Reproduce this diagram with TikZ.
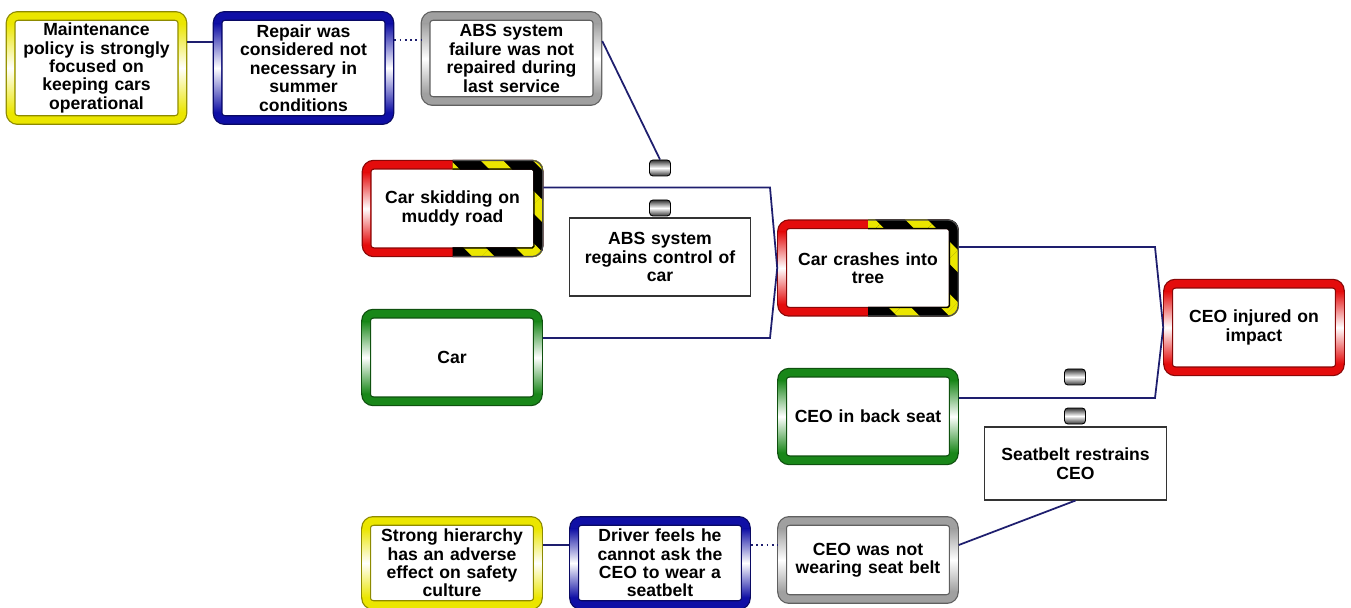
\documentclass[tikz,border=0pt]{standalone}
\usepackage{fontspec}
\setmainfont{Liberation Sans}
\usetikzlibrary{calc,patterns.meta}

\definecolor{linea}{RGB}{30,30,110}
\definecolor{giallo}{RGB}{235,230,0}
\definecolor{blu}{RGB}{15,15,165}
\definecolor{grigio}{RGB}{160,160,160}
\definecolor{rosso}{RGB}{228,12,12}
\definecolor{verde}{RGB}{25,135,25}

\tikzset{
  evento/.style={rectangle, rounded corners=4pt, draw=#1!60!black, double=#1, double distance=4.2pt,
    line width=0.7pt, minimum width=3.36cm, minimum height=1.75cm, text width=3.2cm, align=center,
    outer sep=2.8pt, fill=white, font=\bfseries\fontsize{10}{10.5}\selectfont},
  barriera/.style={rectangle, draw=black!80, line width=0.6pt, minimum width=3.58cm, minimum height=1.46cm,
    text width=3.4cm, align=center, fill=white, font=\bfseries\fontsize{10}{10.5}\selectfont},
  blocco/.style={rectangle, rounded corners=2pt, draw=black, line width=0.5pt, minimum width=0.42cm,
    minimum height=0.32cm, inner sep=0pt, top color=black!80, bottom color=black!80, middle color=white},
  conn/.style={draw=linea, line width=1pt},
}

% riflesso bianco sui lati
\newcommand{\lucido}[2]{%
  \shade[top color=#2, bottom color=#2, middle color=white]
    ($(#1.north west)+(0.03,-0.25)$) rectangle ($(#1.south west)+(0.168,0.25)$);
  \shade[top color=#2, bottom color=#2, middle color=white]
    ($(#1.north east)+(-0.03,-0.25)$) rectangle ($(#1.south east)+(-0.168,0.25)$);}

% bordo a strisce giallo-nero sulla meta destra
\newcommand{\striscia}[1]{%
  \begin{scope}
    \clip ($(#1.north)+(0,0.3)$) rectangle ($(#1.south east)+(0.3,-0.3)$);
    \fill[black, even odd rule, rounded corners=6pt] (#1.north west) rectangle (#1.south east)
      [rounded corners=1pt] ($(#1.north west)+(0.197,-0.197)$) rectangle ($(#1.south east)+(-0.197,0.197)$);
    \fill[pattern={Lines[angle=-45,distance=21pt,line width=9pt]}, pattern color=giallo, even odd rule, rounded corners=6pt]
      (#1.north west) rectangle (#1.south east)
      [rounded corners=1pt] ($(#1.north west)+(0.197,-0.197)$) rectangle ($(#1.south east)+(-0.197,0.197)$);
    \draw[black, line width=0.7pt, rounded corners=1pt] ($(#1.north west)+(0.185,-0.185)$) rectangle ($(#1.south east)+(-0.185,0.185)$);
    \draw[black!70, line width=0.7pt, rounded corners=6pt] ($(#1.north west)+(0.012,-0.012)$) rectangle ($(#1.south east)+(-0.012,0.012)$);
  \end{scope}}

\begin{document}
\begin{tikzpicture}
    \useasboundingbox (0,0) rectangle (27.02,-12.16);

    % catena in alto
    \node[evento=giallo, minimum height=2.08cm] (maint) at (1.93,-1.36) {Maintenance\\policy is strongly\\focused on\\keeping cars\\operational};
    \lucido{maint}{giallo}
    \node[evento=blu, minimum height=2.08cm] (repair) at (6.07,-1.36) {Repair was\\considered not\\necessary in\\summer\\conditions};
    \lucido{repair}{blu}
    \node[evento=grigio, minimum height=1.7cm] (absfail) at (10.23,-1.17) {ABS system\\failure was not\\repaired during\\last service};
    \lucido{absfail}{grigio}

    % minacce e top event
    \node[evento=rosso] (skid) at (9.05,-4.17) {Car skidding on\\muddy road};
    \lucido{skid}{rosso}
    \striscia{skid}
    \node[evento=verde] (car) at (9.04,-7.15) {Car};
    \lucido{car}{verde}
    \node[evento=rosso] (crash) at (17.36,-5.36) {Car crashes into\\tree};
    \lucido{crash}{rosso}
    \striscia{crash}
    \node[evento=rosso] (injured) at (25.08,-6.55) {CEO injured on\\impact};
    \lucido{injured}{rosso}
    \node[evento=verde] (backseat) at (17.36,-8.33) {CEO in back seat};
    \lucido{backseat}{verde}

    % barriere
    \node[barriera, minimum height=1.56cm] (absreg) at (13.2,-5.14) {ABS system\\regains control of\\car};
    \node[barriera] (restrain) at (21.51,-9.27) {Seatbelt restrains\\CEO};
    \node[blocco] (b1) at (13.2,-3.36) {};
    \node[blocco] (b2) at (13.2,-4.16) {};
    \node[blocco] (b3) at (21.5,-7.54) {};
    \node[blocco] (b4) at (21.5,-8.32) {};

    % catena in basso
    \node[evento=giallo, minimum height=1.68cm] (hier) at (9.04,-11.26) {Strong hierarchy\\has an adverse\\effect on safety\\culture};
    \lucido{hier}{giallo}
    \node[evento=blu, minimum height=1.68cm] (driver) at (13.2,-11.26) {Driver feels he\\cannot ask the\\CEO to wear a\\seatbelt};
    \lucido{driver}{blu}
    \node[evento=grigio, minimum height=1.56cm] (notwear) at (17.36,-11.2) {CEO was not\\wearing seat belt};
    \lucido{notwear}{grigio}

    % collegamenti
    \coordinate (j1) at (15.4,0);
    \coordinate (j3) at (23.1,0);

    \draw[conn] ($(maint.east)+(0,0.52)$) coordinate (p1) -- (p1 -| repair.west);
    \draw[conn, dotted] ($(repair.east)+(0,0.56)$) coordinate (p2) -- (p2 -| absfail.west);
    \draw[conn] ($(absfail.north east)+(0,-0.6)$) -- (b1.north);
    \draw[conn] ($(skid.east)+(0,0.42)$) coordinate (s1) -- (s1 -| j1) -- (crash.west);
    \draw[conn] ($(car.east)+(0,0.39)$) coordinate (s2) -- (s2 -| j1) -- (crash.west);
    \draw[conn] ($(crash.east)+(0,0.42)$) coordinate (s3) -- (s3 -| j3) -- (injured.west);
    \draw[conn] ($(backseat.east)+(0,0.37)$) coordinate (s4) -- (s4 -| j3) -- (injured.west);
    \draw[conn] ($(notwear.east)+(0,0.3)$) -- (restrain.south);
    \draw[conn] ($(hier.east)+(0,0.36)$) coordinate (p3) -- (p3 -| driver.west);
    \draw[conn, dotted] ($(driver.east)+(0,0.36)$) coordinate (p4) -- (p4 -| notwear.west);
\end{tikzpicture}
\end{document}
